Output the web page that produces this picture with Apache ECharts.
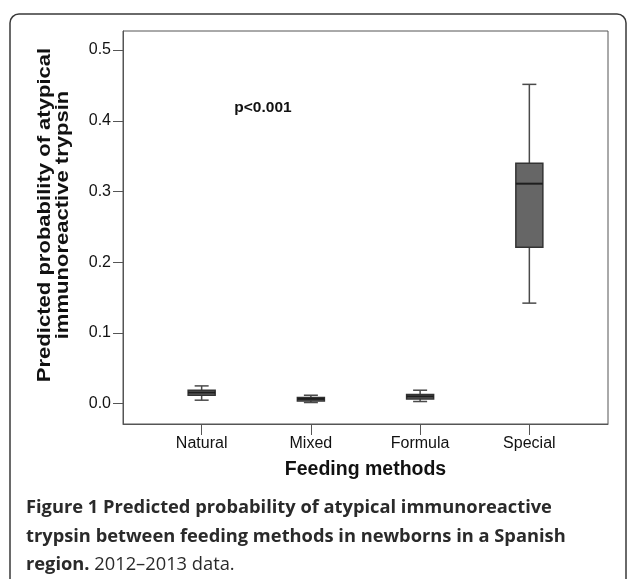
<!DOCTYPE html>
<html>
<head>
<meta charset="utf-8">
<script src="https://cdn.jsdelivr.net/npm/echarts@6/dist/echarts.min.js"></script>
<style>
  html, body { margin: 0; padding: 0; background: #fff; }
  #chart { width: 628px; height: 579px; }
</style>
</head>
<body>
<div id="chart"></div>
<script>
// 喂养方式分组
const categories = ['Natural', 'Mixed', 'Formula', 'Special'];
const positions = [0, 1, 2, 3];
// 箱线图数值
const whiskerLow = [0.0047, 0.0014, 0.0028, 0.142];
const quartile1 = [0.0117, 0.0037, 0.0065, 0.221];
const medians = [0.0155, 0.0065, 0.0100, 0.311];
const quartile3 = [0.0188, 0.0085, 0.0127, 0.340];
const whiskerHigh = [0.0249, 0.0117, 0.0188, 0.4515];
const yTicks = [0, 0.1, 0.2, 0.3, 0.4, 0.5];

const boxData = positions.map((p, i) => [p, whiskerLow[i], quartile1[i], medians[i], quartile3[i], whiskerHigh[i]]);

const chartFont = 'Liberation Sans';
const captionFont = 'Open Sans';

var myChart = echarts.init(document.getElementById('chart'));

var option = {
  backgroundColor: '#fff',
  animation: false,
  grid: {
    left: 123,
    right: 20,
    top: 31,
    bottom: 155,
    show: true,
    borderColor: '#555',
    borderWidth: 1
  },
  xAxis: {
    type: 'value',
    min: -0.72,
    max: 3.72,
    splitLine: { show: false },
    axisLine: { show: true, onZero: false, lineStyle: { color: '#555', width: 1 } },
    axisTick: { show: true, customValues: positions, length: 11, lineStyle: { color: '#555' } },
    axisLabel: {
      customValues: positions,
      formatter: v => categories[Math.round(v)],
      color: '#111',
      fontFamily: chartFont,
      fontSize: 16,
      margin: 12
    },
    name: 'Feeding methods',
    nameLocation: 'middle',
    nameGap: 36,
    nameTextStyle: { fontFamily: chartFont, fontWeight: 'bold', fontSize: 19.5, color: '#111' }
  },
  yAxis: {
    type: 'value',
    min: -0.029,
    max: 0.527,
    splitLine: { show: false },
    axisLine: { show: true, onZero: false, lineStyle: { color: '#555', width: 1 } },
    axisTick: { show: true, customValues: yTicks, length: 10, lineStyle: { color: '#555' } },
    axisLabel: {
      customValues: yTicks,
      formatter: v => v.toFixed(1),
      color: '#111',
      fontFamily: chartFont,
      fontSize: 16,
      margin: 12
    }
  },
  series: [
    {
      type: 'custom',
      data: boxData,
      encode: { x: 0, y: [1, 2, 3, 4, 5] },
      renderItem: function (params, api) {
        var x = api.value(0);
        var pMin = api.coord([x, api.value(1)]);
        var pQ1 = api.coord([x, api.value(2)]);
        var pMed = api.coord([x, api.value(3)]);
        var pQ3 = api.coord([x, api.value(4)]);
        var pMax = api.coord([x, api.value(5)]);
        var cx = pMed[0];
        var bw = 27, cw = 14;
        var wStyle = { stroke: '#4a4a4a', lineWidth: 1.5 };
        return {
          type: 'group',
          children: [
            { type: 'line', shape: { x1: cx, y1: pMax[1], x2: cx, y2: pMin[1] }, style: wStyle },
            { type: 'line', shape: { x1: cx - cw / 2, y1: pMax[1], x2: cx + cw / 2, y2: pMax[1] }, style: wStyle },
            { type: 'line', shape: { x1: cx - cw / 2, y1: pMin[1], x2: cx + cw / 2, y2: pMin[1] }, style: wStyle },
            {
              type: 'rect',
              shape: { x: cx - bw / 2, y: pQ3[1], width: bw, height: pQ1[1] - pQ3[1] },
              style: { fill: '#666', stroke: '#333', lineWidth: 1.5 }
            },
            { type: 'line', shape: { x1: cx - bw / 2, y1: pMed[1], x2: cx + bw / 2, y2: pMed[1] }, style: { stroke: '#1e1e1e', lineWidth: 2 } }
          ]
        };
      }
    }
  ],
  graphic: [
    // 外框
    {
      type: 'rect',
      shape: { x: 10, y: 14, width: 616, height: 620, r: 9 },
      style: { fill: 'none', stroke: '#3a3a3a', lineWidth: 1.5 },
      silent: true
    },
    // 纵轴标题
    {
      type: 'text',
      x: 54,
      y: 215,
      rotation: Math.PI / 2,
      scaleX: 1.16,
      style: {
        text: 'Predicted probability of atypical\nimmunoreactive trypsin',
        fontFamily: chartFont,
        fontWeight: 'bold',
        fontSize: 19,
        lineHeight: 18,
        fill: '#111',
        align: 'center',
        verticalAlign: 'middle'
      }
    },
    {
      type: 'text',
      x: 263,
      y: 108,
      style: {
        text: 'p<0.001',
        fontFamily: chartFont,
        fontWeight: 'bold',
        fontSize: 15.5,
        fill: '#111',
        align: 'center',
        verticalAlign: 'middle'
      }
    },
    // 图注
    {
      type: 'text',
      left: 26,
      top: 494,
      style: {
        text: '{b|Figure 1 Predicted probability of atypical immunoreactive}\n{b|trypsin between feeding methods in newborns in a Spanish}\n{b|region.}{n| 2012–2013 data.}',
        fontFamily: captionFont,
        fontSize: 18.3,
        lineHeight: 28.5,
        fill: '#2a2a2a',
        rich: {
          b: { fontFamily: captionFont, fontWeight: 'bold', fontSize: 18.3, lineHeight: 28.5, fill: '#2a2a2a' },
          n: { fontFamily: captionFont, fontSize: 18.3, lineHeight: 28.5, fill: '#2a2a2a' }
        }
      }
    }
  ]
};

option && myChart.setOption(option);
</script>
</body>
</html>
